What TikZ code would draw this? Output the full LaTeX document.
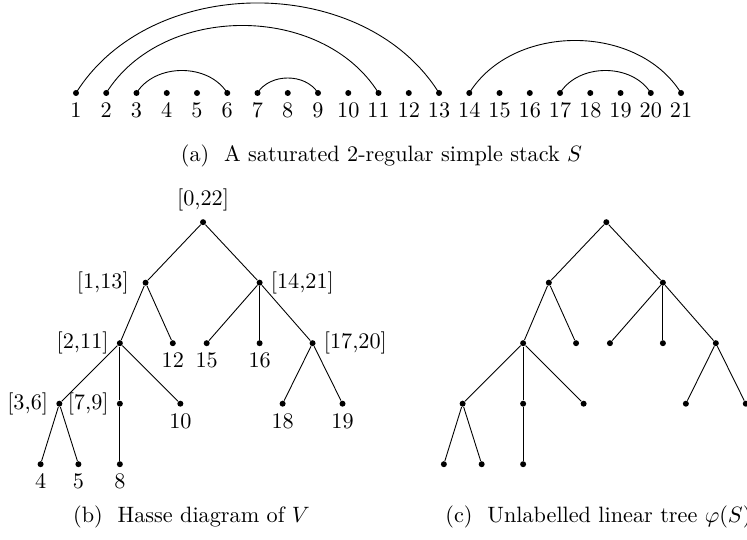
\documentclass[tikz,border=0pt]{standalone}
\usetikzlibrary{positioning}

\begin{document}
\begin{tikzpicture}[x=0.4785cm, y=0.4785cm,
    dot/.style={circle, fill, inner sep=0pt, minimum size=2.7pt},
    every label/.style={label distance=-0.8pt}]
    \useasboundingbox (-1.512,3.074) rectangle (23.18,-14.744);

    % Points of the stack
    \foreach \i in {1,...,21} {
        \node[dot, label=below:\i] (s\i) at (\i,0) {};
    }

    % Arcs of the stack
    \foreach \a/\b in {1/13, 2/11, 3/6, 7/9, 14/21, 17/20} {
        \draw (s\a.center) to[bend left=58] (s\b.center);
    }

    \node[anchor=base] (capa) at (11.10,-2.25) {(a)\ \ A saturated 2-regular simple stack $S$};

    % Hasse diagram
    \node[dot, label={[label distance=0pt]above:{[0,22]}}] (r) at (5.20,-4.27) {};
    \node[dot, label={[label distance=2.5pt]left:{[1,13]}}] (a) at (3.30,-6.27) {};
    \node[dot, label={[label distance=0pt]right:{[14,21]}}] (b) at (7.07,-6.27) {};
    \node[dot, label={[label distance=0pt]left:{[2,11]}}] (c) at (2.45,-8.27) {};
    \node[dot, label=below:12] (d) at (4.20,-8.27) {};
    \node[dot, label=below:15] (e) at (5.32,-8.27) {};
    \node[dot, label=below:16] (f) at (7.07,-8.27) {};
    \node[dot, label={[label distance=0pt]right:{[17,20]}}] (g) at (8.82,-8.27) {};
    \node[dot, label={[label distance=0pt]left:{[3,6]}}] (h) at (0.45,-10.27) {};
    \node[dot, label={[label distance=0pt]left:{[7,9]}}] (i) at (2.45,-10.27) {};
    \node[dot, label=below:10] (j) at (4.45,-10.27) {};
    \node[dot, label=below:18] (k) at (7.83,-10.27) {};
    \node[dot, label=below:19] (l) at (9.81,-10.27) {};
    \node[dot, label=below:4] (m) at (-0.17,-12.27) {};
    \node[dot, label=below:5] (n) at (1.08,-12.27) {};
    \node[dot, label=below:8] (o) at (2.45,-12.27) {};

    % Unlabelled tree
    \foreach \n/\x/\y in {r/5.20/-4.27, a/3.30/-6.27, b/7.07/-6.27, c/2.45/-8.27,
        d/4.20/-8.27, e/5.32/-8.27, f/7.07/-8.27, g/8.82/-8.27, h/0.45/-10.27,
        i/2.45/-10.27, j/4.45/-10.27, k/7.83/-10.27, l/9.81/-10.27,
        m/-0.17/-12.27, n/1.08/-12.27, o/2.45/-12.27} {
        \node[dot] (u\n) at (\x+13.33,\y) {};
    }

    % Edges of both trees
    \foreach \p/\c in {r/a, r/b, a/c, a/d, b/e, b/f, b/g, c/h, c/i, c/j,
        g/k, g/l, h/m, h/n, i/o} {
        \draw (\p) -- (\c);
        \draw (u\p) -- (u\c);
    }

    \node[anchor=base] (capb) at (4.82,-14.20) {(b)\ \ Hasse diagram of $V$};
    \node[anchor=base] (capc) at (18.27,-14.20) {(c)\ \ Unlabelled linear tree $\varphi(S)$};
\end{tikzpicture}
\end{document}
